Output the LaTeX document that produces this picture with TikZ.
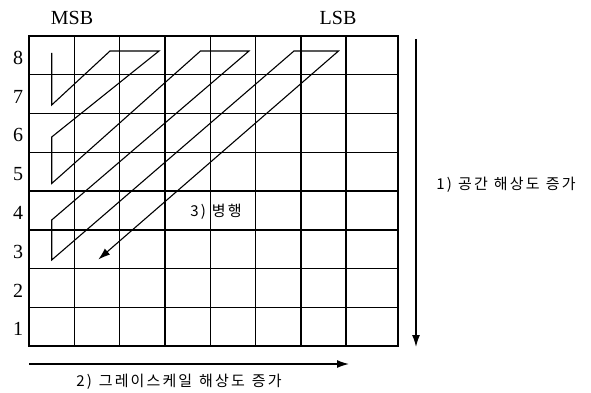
\documentclass[tikz,border=0pt]{standalone}
\usepackage{fontspec}
\setmainfont{Liberation Serif}
\newfontfamily\kfont{Noto Sans CJK KR}
\usetikzlibrary{arrows.meta}
\begin{document}
\begin{tikzpicture}[x=1pt,y=-1pt,
  gridline/.style={line width=1.5pt},
  zigzag/.style={line width=1.1pt, line join=miter, -{Latex[length=12pt,width=8pt]}},
  bigarrow/.style={line width=1.4pt, -{Latex[length=12pt,width=8pt]}},
  bitlabel/.style={font=\fontsize{20}{20}\selectfont, inner sep=0pt},
  rowlabel/.style={font=\fontsize{20}{20}\selectfont, inner sep=0pt},
  ktextA/.style={font=\kfont\fontsize{15}{15}\selectfont\addfontfeature{LetterSpace=15}, inner sep=0pt},
  ktextB/.style={font=\kfont\fontsize{15}{15}\selectfont\addfontfeature{LetterSpace=14}, inner sep=0pt}]
\useasboundingbox (0,0) rectangle (591,393);
% grid
\draw[gridline] (29,36) rectangle (398,346);
\foreach \yy in {74.75,113.5,152.25,191,229.75,268.5,307.25}
  \draw[gridline] (29,\yy) -- (398,\yy);
\foreach \xx in {74.3,119.6,165,210.3,255.6,300.9,346}
  \draw[gridline] (\xx,36) -- (\xx,346);
% labels
\node[bitlabel] (msb) at (72,18) {MSB};
\node[bitlabel] (lsb) at (338,18) {LSB};
\foreach \n/\yy in {8/57.5,7/96.5,6/135,5/174,4/213,3/252,2/290.5,1/329}
  \node[rowlabel] (r\n) at (18,\yy) {\n};
% zigzag scan path
\coordinate (p0) at (51.7,53);
\coordinate (p1) at (51.7,105);
\coordinate (p2) at (110,51);
\coordinate (p3) at (159,51);
\coordinate (p4) at (51.7,137);
\coordinate (p5) at (51.7,183.5);
\coordinate (p6) at (200.5,51);
\coordinate (p7) at (249,51);
\coordinate (p8) at (51.7,220);
\coordinate (p9) at (51.7,260);
\coordinate (p10) at (294,51);
\coordinate (p11) at (338.5,51);
\coordinate (p12) at (98.3,259.5);
\draw[zigzag] (p0) -- (p1) -- (p2) -- (p3) -- (p4) -- (p5) -- (p6) -- (p7) -- (p8) -- (p9) -- (p10) -- (p11) -- (p12);
% arrows
\coordinate (va) at (416,39);
\coordinate (vb) at (416,347);
\draw[bigarrow] (va) -- (vb);
\coordinate (ha) at (29,364);
\coordinate (hb) at (349,364);
\draw[bigarrow] (ha) -- (hb);
% korean texts
\node[ktextA] (t1) at (506,185) {1)\hspace{6pt}공간\hspace{6pt}해상도\hspace{6pt}증가};
\node[ktextB] (t2) at (179,382) {2)\hspace{7pt}그레이스케일\hspace{7pt}해상도\hspace{7pt}증가};
\node[ktextA] (t3) at (216,212) {3)\hspace{6pt}병행};
\end{tikzpicture}
\end{document}
